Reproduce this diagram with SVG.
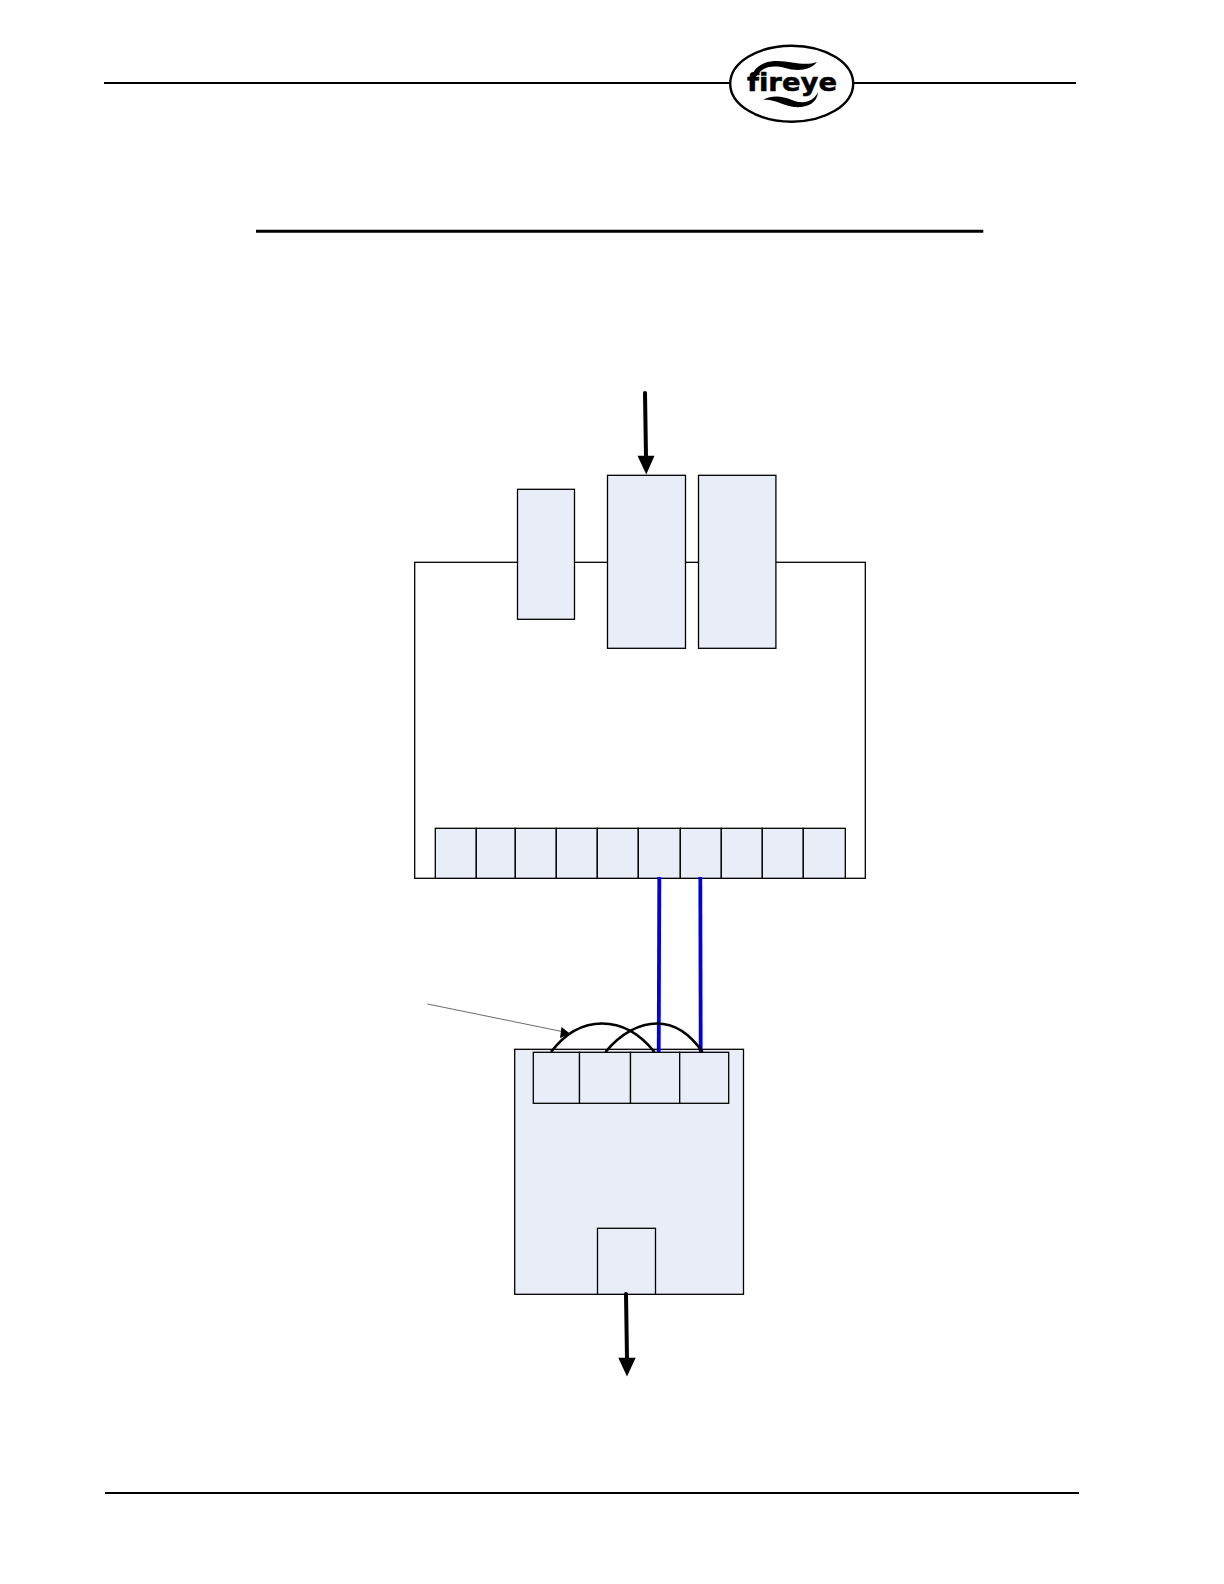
<svg xmlns="http://www.w3.org/2000/svg" width="1224" height="1584" viewBox="0 0 1224 1584">
<style>
.box{fill:#e8edf7;stroke:#000;stroke-width:1.3}
.rule{stroke:#000;fill:none}
.wire{stroke:#0000e0;stroke-width:3.8;fill:none}
.jump{stroke:#000;stroke-width:2.7;fill:none}
.heavy{stroke:#000;stroke-width:4;stroke-linecap:round;fill:none}
</style>
<rect width="1224" height="1584" fill="#fff"/>
<g id="header">
<line class="rule" x1="104" y1="83" x2="730" y2="83" stroke-width="2"/>
<line class="rule" x1="853" y1="83" x2="1076" y2="83" stroke-width="2"/>
<line class="rule" x1="256" y1="231.3" x2="983.3" y2="231.3" stroke-width="3"/>
<line class="rule" x1="105" y1="1493" x2="1079" y2="1493" stroke-width="2"/>
</g>
<g id="logo">
<ellipse cx="791.7" cy="83.7" rx="61.5" ry="38" fill="#fff" stroke="#000" stroke-width="2.4"/>
<path d="M750 84C751 70 760 62 774 61C790 60 803 67 817 62C811 70 798 72 785 68C770 64 757 68 753 84Z" fill="#000"/>
<path d="M763 100C772 95 782 96 792 100C804 105 814 101 818 92C817 104 806 108 794 107C782 105 772 98 763 100Z" fill="#000"/>
<text x="747" y="90.5" font-family="DejaVu Sans" font-weight="bold" font-size="25" textLength="90" lengthAdjust="spacingAndGlyphs" fill="#000" stroke="#000" stroke-width="0.5" style="font-variant-ligatures:none">fireye</text>
</g>
<g id="main-board">
<rect x="414.7" y="562.3" width="450.6" height="316" fill="#fff" stroke="#000" stroke-width="1.3"/>
</g>
<g id="module-a"><rect class="box" x="517.5" y="489.3" width="57" height="130"/></g>
<g id="module-b"><rect class="box" x="607.5" y="475.3" width="78" height="173"/></g>
<g id="module-c"><rect class="box" x="698.5" y="475.3" width="77.4" height="173"/></g>
<g id="board-terminals">
<rect class="box" x="435.3" y="828.3" width="41" height="50"/>
<rect class="box" x="476.3" y="828.3" width="39" height="50"/>
<rect class="box" x="515.3" y="828.3" width="41" height="50"/>
<rect class="box" x="556.3" y="828.3" width="41" height="50"/>
<rect class="box" x="597.3" y="828.3" width="41" height="50"/>
<rect class="box" x="638.3" y="828.3" width="42" height="50"/>
<rect class="box" x="680.3" y="828.3" width="41" height="50"/>
<rect class="box" x="721.3" y="828.3" width="41" height="50"/>
<rect class="box" x="762.3" y="828.3" width="41" height="50"/>
<rect class="box" x="803.3" y="828.3" width="42" height="50"/>
</g>
<g id="lower-module"><rect class="box" x="514.7" y="1049.3" width="228.8" height="245"/></g>
<g id="lower-terminals">
<rect class="box" x="533.3" y="1052.3" width="46.2" height="51"/>
<rect class="box" x="579.5" y="1052.3" width="51" height="51"/>
<rect class="box" x="630.5" y="1052.3" width="49.2" height="51"/>
<rect class="box" x="679.7" y="1052.3" width="49" height="51"/>
</g>
<g id="output-port"><rect class="box" x="597.5" y="1228.3" width="58" height="66"/></g>
<g id="connectors">
<line class="wire" x1="659.3" y1="877" x2="658.7" y2="1052"/>
<line class="wire" x1="700.3" y1="877" x2="700.7" y2="1052"/>
<path class="jump" d="M551 1052C567 1031 585 1023.5 602 1023.5C622 1023.5 640 1034 654.5 1052"/>
<path class="jump" d="M605.5 1052C621 1033 640 1023.5 657 1023.5C676 1023.5 690 1034 702.5 1052"/>
<line x1="427.5" y1="1004" x2="562" y2="1031.5" stroke="#444" stroke-width="0.8"/>
<polygon points="570.5,1034 560,1038 561.5,1027" fill="#000"/>
<line class="heavy" x1="645" y1="393" x2="646" y2="457"/>
<polygon points="637.5,455.7 654.5,455.7 646.3,474.5" fill="#000"/>
<line class="heavy" x1="626" y1="1294" x2="627" y2="1359"/>
<polygon points="618.3,1357.7 635.7,1357.7 627,1376.5" fill="#000"/>
</g>
</svg>
